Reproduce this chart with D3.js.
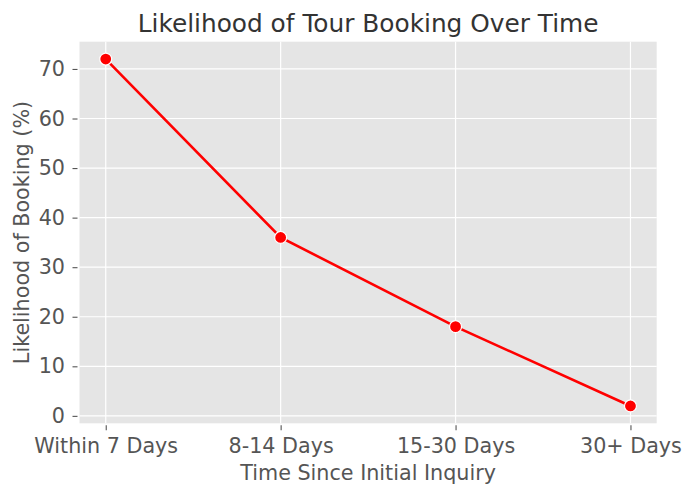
<!DOCTYPE html>
<html><head><meta charset="utf-8">
<script src="https://cdn.jsdelivr.net/npm/d3@7"></script>
<style>body{margin:0;background:#fff}svg{display:block}text{font-family:"DejaVu Sans",sans-serif}</style>
</head><body>
<svg id="c" width="694" height="497"></svg>
<script>
const categories = ["Within 7 Days", "8-14 Days", "15-30 Days", "30+ Days"];
const values = [72, 36, 18, 2];
const yTicks = [0, 10, 20, 30, 40, 50, 60, 70];
const title = "Likelihood of Tour Booking Over Time";
const xLabel = "Time Since Initial Inquiry";
const yLabel = "Likelihood of Booking (%)";

const svg = d3.select("#c");
const L = 79.5, R = 656.7, T = 41.7, B = 423.3;
const FS = 20.7;
const x = d3.scaleLinear().domain([-0.15, categories.length - 1 + 0.15]).range([L, R]);
const y = d3.scaleLinear().domain([-1.5, 75.5]).range([B, T]);

svg.append("rect").attr("x", L).attr("y", T).attr("width", R - L).attr("height", B - T).attr("fill", "#E5E5E5");

// grid
svg.append("g").selectAll("line").data(yTicks).join("line")
  .attr("x1", L).attr("x2", R).attr("y1", d => y(d)).attr("y2", d => y(d))
  .attr("stroke", "#fff").attr("stroke-width", 1.2);
svg.append("g").selectAll("line").data(categories).join("line")
  .attr("x1", (d, i) => x(i)).attr("x2", (d, i) => x(i)).attr("y1", T).attr("y2", B)
  .attr("stroke", "#fff").attr("stroke-width", 1.2);

// y axis
const yAxis = d3.axisLeft(y).tickValues(yTicks).tickSize(5).tickPadding(7.5);
const gy = svg.append("g").attr("transform", `translate(${L - 2},0)`).call(yAxis);
gy.select(".domain").remove();
gy.selectAll(".tick line").attr("stroke", "#555").attr("stroke-width", 1.1);
gy.selectAll(".tick text").attr("fill", "#555").attr("font-size", FS).attr("font-family", "DejaVu Sans");

// x axis
const xAxis = d3.axisBottom(x).tickValues(categories.map((d, i) => i)).tickFormat(i => categories[i]).tickSize(5).tickPadding(8);
const gx = svg.append("g").attr("transform", `translate(0,${B + 2})`).call(xAxis);
gx.select(".domain").remove();
gx.selectAll(".tick line").attr("stroke", "#555").attr("stroke-width", 1.1);
gx.selectAll(".tick text").attr("fill", "#555").attr("font-size", FS).attr("font-family", "DejaVu Sans");

// line
const line = d3.line().x((d, i) => x(i)).y(d => y(d));
svg.append("path").datum(values).attr("d", line).attr("fill", "none").attr("stroke", "#FF0000").attr("stroke-width", 2.6);
svg.append("g").selectAll("circle").data(values).join("circle")
  .attr("cx", (d, i) => x(i)).attr("cy", d => y(d)).attr("r", 6)
  .attr("fill", "#FF0000").attr("stroke", "#fff").attr("stroke-width", 1.2);

// labels
svg.append("text").attr("x", (L + R) / 2).attr("y", 32.3).attr("text-anchor", "middle")
  .attr("font-size", 24.8).attr("fill", "#333").text(title);
svg.append("text").attr("x", (L + R) / 2).attr("y", 479.5).attr("text-anchor", "middle")
  .attr("font-size", FS).attr("fill", "#555").text(xLabel);
svg.append("text").attr("transform", `translate(28.5,${(T + B) / 2}) rotate(-90)`).attr("text-anchor", "middle")
  .attr("font-size", FS).attr("fill", "#555").text(yLabel);
</script>
</body></html>
